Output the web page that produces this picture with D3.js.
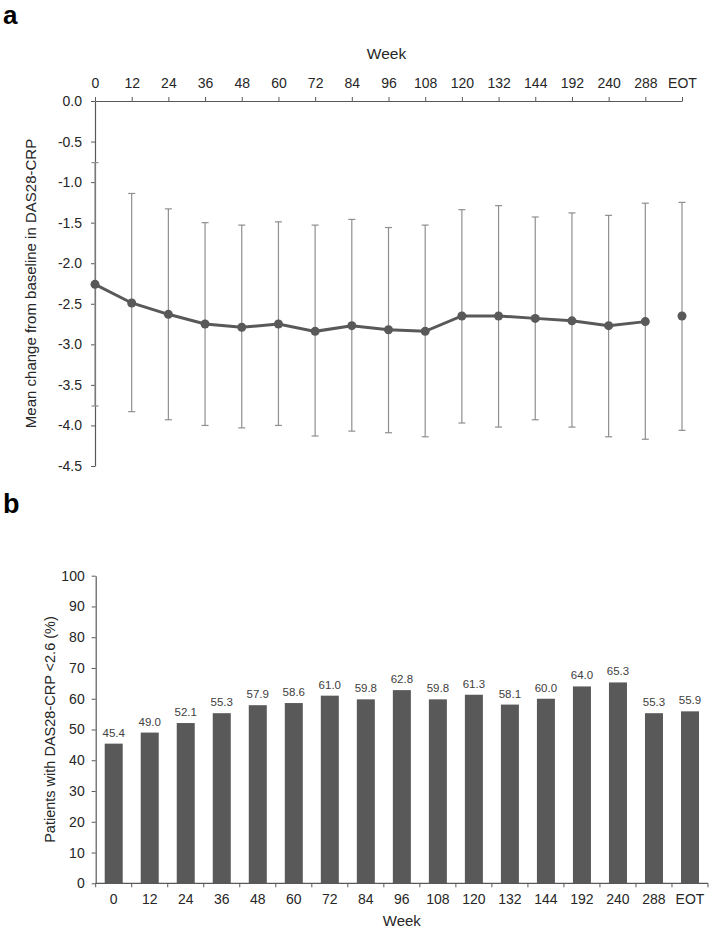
<!DOCTYPE html>
<html>
<head>
<meta charset="utf-8">
<script src="https://cdn.jsdelivr.net/npm/d3@7"></script>
<style>
  html, body { margin: 0; padding: 0; background: #fff; }
  svg { display: block; font-family: "Liberation Sans", Arial, sans-serif; }
</style>
</head>
<body>
<svg id="chart" width="709" height="928"></svg>
<script>
// ---- Data ----
const weeks = ["0","12","24","36","48","60","72","84","96","108","120","132","144","192","240","288","EOT"];
// Panel a: mean change from baseline in DAS28-CRP, with SD bounds
const meanChange = [-2.26,-2.49,-2.63,-2.75,-2.79,-2.75,-2.84,-2.77,-2.82,-2.84,-2.65,-2.65,-2.68,-2.71,-2.77,-2.72,-2.65];
const upperBound = [-0.76,-1.14,-1.33,-1.50,-1.53,-1.49,-1.53,-1.46,-1.56,-1.53,-1.34,-1.29,-1.43,-1.38,-1.41,-1.26,-1.25];
const lowerBound = [-3.76,-3.83,-3.93,-4.00,-4.03,-4.00,-4.13,-4.07,-4.09,-4.14,-3.97,-4.02,-3.93,-4.02,-4.14,-4.17,-4.06];
const yTicksA = [0,-0.5,-1.0,-1.5,-2.0,-2.5,-3.0,-3.5,-4.0,-4.5];
// Panel b: patients with DAS28-CRP < 2.6 (%)
const remission = [45.4,49.0,52.1,55.3,57.9,58.6,61.0,59.8,62.8,59.8,61.3,58.1,60.0,64.0,65.3,55.3,55.9];
const yTicksB = [0,10,20,30,40,50,60,70,80,90,100];

const svg = d3.select("#chart");
const axisColor = "#595959";
const textColor = "#262626";
const markColor = "#595959";
const errColor = "#8f8f8f";

function styleAxis(g, fs) {
  g.select(".domain").attr("stroke", axisColor).attr("stroke-width", 1.2);
  g.selectAll(".tick line").attr("stroke", axisColor).attr("stroke-width", 1);
  g.selectAll(".tick text").attr("fill", textColor).style("font-size", fs)
    .style("font-family", '"Liberation Sans", Arial, sans-serif');
}

// ---------- Panel a ----------
svg.append("text").attr("x", 3).attr("y", 24).text("a")
  .style("font-size", "26px").style("font-weight", "bold").attr("fill", "#000");

const xA = d3.scalePoint().domain(weeks).range([95, 682]);
const yA = d3.scaleLinear().domain([-4.5, 0]).range([466, 101]);

const gxA = svg.append("g").attr("transform", `translate(0,${yA(0)})`)
  .call(d3.axisTop(xA).tickSize(4).tickSizeOuter(0).tickPadding(9));
styleAxis(gxA, "14px");

const gyA = svg.append("g").attr("transform", `translate(${xA(weeks[0])},0)`)
  .call(d3.axisLeft(yA).tickValues(yTicksA).tickFormat(d => d.toFixed(1)).tickSize(4).tickSizeOuter(0).tickPadding(9));
styleAxis(gyA, "14px");

svg.append("text").attr("x", (xA.range()[0] + xA.range()[1]) / 2 - 2).attr("y", 59)
  .attr("text-anchor", "middle").style("font-size", "15.5px").attr("fill", textColor).text("Week");

svg.append("text")
  .attr("transform", `translate(31,${(yA(0) + yA(-4.5)) / 2}) rotate(-90)`)
  .attr("text-anchor", "middle").attr("dy", "0.35em")
  .style("font-size", "15px").attr("fill", textColor)
  .text("Mean change from baseline in DAS28-CRP");

const dataA = weeks.map((w, i) => ({ w, m: meanChange[i], hi: upperBound[i], lo: lowerBound[i] }));

// error bars
const eb = svg.append("g").attr("stroke", errColor).attr("stroke-width", 1.2);
dataA.forEach(d => {
  const x = xA(d.w);
  eb.append("line").attr("x1", x).attr("x2", x).attr("y1", yA(d.hi)).attr("y2", yA(d.lo));
  eb.append("line").attr("x1", x - 3.5).attr("x2", x + 3.5).attr("y1", yA(d.hi)).attr("y2", yA(d.hi));
  eb.append("line").attr("x1", x - 3.5).attr("x2", x + 3.5).attr("y1", yA(d.lo)).attr("y2", yA(d.lo));
});

// line (not connected to EOT)
const lineData = dataA.filter(d => d.w !== "EOT");
svg.append("path").datum(lineData)
  .attr("fill", "none").attr("stroke", markColor).attr("stroke-width", 3)
  .attr("d", d3.line().x(d => xA(d.w)).y(d => yA(d.m)));

svg.append("g").selectAll("circle").data(dataA).join("circle")
  .attr("cx", d => xA(d.w)).attr("cy", d => yA(d.m)).attr("r", 4.5).attr("fill", markColor);

// ---------- Panel b ----------
svg.append("text").attr("x", 3).attr("y", 513).text("b")
  .style("font-size", "27px").style("font-weight", "bold").attr("fill", "#000");

const xB = d3.scaleBand().domain(weeks).range([95.7, 708]).paddingInner(0.5).paddingOuter(0.25);
const yB = d3.scaleLinear().domain([0, 100]).range([883.3, 575.7]);

svg.append("g").selectAll("rect").data(weeks).join("rect")
  .attr("x", (w) => xB(w)).attr("width", xB.bandwidth())
  .attr("y", (w, i) => yB(remission[i])).attr("height", (w, i) => yB(0) - yB(remission[i]))
  .attr("fill", markColor);

svg.append("g").selectAll("text").data(weeks).join("text")
  .attr("x", w => xB(w) + xB.bandwidth() / 2)
  .attr("y", (w, i) => yB(remission[i]) - 7)
  .attr("text-anchor", "middle").style("font-size", "11.5px").attr("fill", "#404040")
  .text((w, i) => remission[i].toFixed(1));

const gyB = svg.append("g").attr("transform", `translate(${xB.range()[0]},0)`)
  .call(d3.axisLeft(yB).tickValues(yTicksB).tickFormat(d3.format("d")).tickSize(4).tickSizeOuter(0).tickPadding(7));
styleAxis(gyB, "14px");

// bottom axis: line + boundary ticks + centered labels
const gxB = svg.append("g").attr("transform", `translate(0,${yB(0)})`);
gxB.append("line").attr("x1", xB.range()[0]).attr("x2", xB.range()[1]).attr("y1", 0).attr("y2", 0)
  .attr("stroke", axisColor).attr("stroke-width", 1.2);
const gap = (xB.step() - xB.bandwidth()) / 2;
const boundaries = weeks.map(w => xB(w) - gap).concat([xB.range()[1]]);
gxB.selectAll("line.tk").data(boundaries).join("line").attr("class", "tk")
  .attr("x1", d => d).attr("x2", d => d).attr("y1", 0).attr("y2", 4)
  .attr("stroke", axisColor).attr("stroke-width", 1);
gxB.selectAll("text").data(weeks).join("text")
  .attr("x", w => xB(w) + xB.bandwidth() / 2).attr("y", 21)
  .attr("text-anchor", "middle").style("font-size", "14px").attr("fill", textColor)
  .text(w => w);

svg.append("text").attr("x", (xB.range()[0] + xB.range()[1]) / 2).attr("y", 926)
  .attr("text-anchor", "middle").style("font-size", "15px").attr("fill", textColor).text("Week");

svg.append("text")
  .attr("transform", `translate(50,${(yB(0) + yB(100)) / 2}) rotate(-90)`)
  .attr("text-anchor", "middle").attr("dy", "0.35em")
  .style("font-size", "14.5px").attr("fill", textColor)
  .text("Patients with DAS28-CRP <2.6 (%)");
</script>
</body>
</html>
